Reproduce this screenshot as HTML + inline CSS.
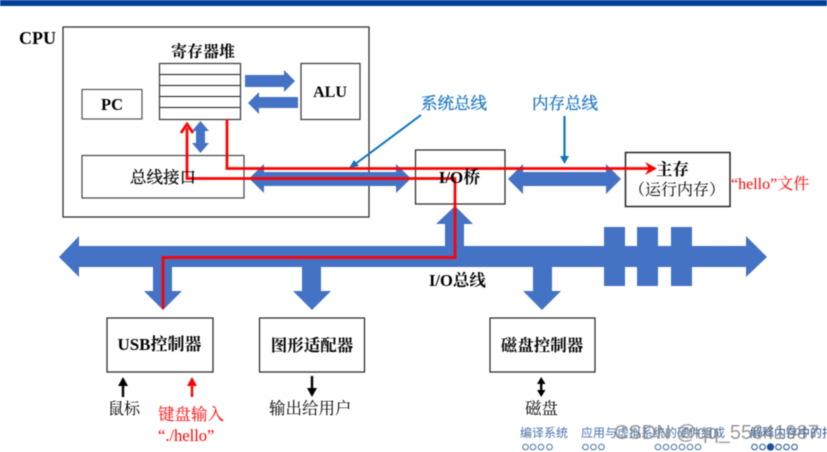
<!DOCTYPE html>
<html><head><meta charset="utf-8">
<style>
html,body{margin:0;padding:0;background:#fff;width:827px;height:452px;overflow:hidden}
svg{display:block;filter:blur(0.45px)}
text{font-family:"Liberation Serif","Noto Serif CJK SC",serif;fill:#000}
.b{font-weight:bold}
.nav{font-family:"Liberation Sans","Noto Sans CJK SC",sans-serif;font-size:12px}
.blue{fill:#1f78c1;stroke:#1f78c1;stroke-width:.35px}
.k{stroke:#000;stroke-width:.25px}
</style></head><body>
<svg width="827" height="452" viewBox="0 0 827 452" xmlns="http://www.w3.org/2000/svg">
<rect x="0" y="0" width="827" height="6" fill="#004098"/>
<g fill="#fff" stroke="#222" stroke-width="1.2">
<rect x="63" y="27" width="306" height="190"/>
<rect x="82" y="89.500" width="60" height="29.500" stroke="#555"/>
<rect x="301" y="63.500" width="59" height="56" stroke="#333"/>
<rect x="82" y="155.500" width="162" height="42.500" stroke="#444"/>
<rect x="159.500" y="63.500" width="81" height="56" stroke="#333"/>
<rect x="415.500" y="150" width="89.500" height="54"/>
<rect x="625.500" y="152.500" width="104.500" height="54" stroke-width="1.500"/>
<rect x="107" y="318" width="106" height="54"/>
<rect x="259.500" y="318" width="105" height="54"/>
<rect x="490" y="318" width="105" height="54"/>
</g>
<g stroke="#111" stroke-width="1">
<line x1="160" x2="240" y1="74.500" y2="74.500"/>
<line x1="160" x2="240" y1="85.500" y2="85.500"/>
<line x1="160" x2="240" y1="96.500" y2="96.500"/>
<line x1="160" x2="240" y1="107.500" y2="107.500"/>
</g>
<g fill="#4472c4">
<polygon points="245,75 284,75 284,70 295,81 284,92 284,87 245,87"/>
<polygon points="298,97 259,97 259,92 248,103 259,114 259,108 298,108"/>
<polygon points="200.500,121 209,131 205,131 205,143 209,143 200.500,153 192,143 196,143 196,131 192,131"/>
<polygon points="249,178.500 264,164 264,172 396,172 396,164 411,178.500 396,193 396,186 264,186 264,193"/>
<polygon points="508,179 523,164 523,172 606,172 606,164 621,179 606,194 606,186 523,186 523,194"/>
<polygon points="455,206 473,224 464,224 464,248 445,248 445,224 436,224"/>
<rect x="604" y="227" width="21" height="59"/>
<rect x="637" y="227" width="21" height="59"/>
<rect x="671" y="227" width="21" height="59"/>
<polygon points="59,257 79,236 79,246 746,246 746,236 767,257 746,277 746,267 79,267 79,277"/>
<polygon points="153,266 172,266 172,291 182,291 163,310 144,291 153,291"/>
<polygon points="302,266 321,266 321,291 331,291 312,310 293,291 302,291"/>
<polygon points="533,266 552,266 552,291 561,291 542,310 523,291 533,291"/>
</g>
<line x1="421" y1="115" x2="354" y2="165" stroke="#0f75bc" stroke-width="2"/>
<polygon points="349,168 354,160 359,166" fill="#0f75bc"/>
<line x1="564.500" y1="116" x2="564.500" y2="158" stroke="#0f75bc" stroke-width="2.200"/>
<polygon points="564.500,164 560,156 569,156" fill="#0f75bc"/>
<g fill="none" stroke="#f00" stroke-width="2.700">
<polyline points="227,119 227,168.500 650,168.500"/>
<polyline points="187,128 187,178.500 455,178.500 455,257.500 163,257.500 163,309"/>
</g>
<polyline points="181,133 187,124 193,133" fill="none" stroke="#f00" stroke-width="2.700"/>
<polygon points="657,168.500 645,162 649,168.500 645,175" fill="#f00"/>
<text x="19" y="44" class="b" font-size="18">CPU</text>
<text x="171" y="57" font-size="16" class="b">寄存器堆</text>
<text x="112" y="110" text-anchor="middle" font-size="16.500" class="b">PC</text>
<text x="330" y="97" text-anchor="middle" font-size="16" class="b">ALU</text>
<text x="130" y="183" font-size="16.500" class="k">总线接口</text>
<text x="459.500" y="183" text-anchor="middle" font-size="17" class="b">I/O桥</text>
<text x="421" y="109" font-size="16.500" class="blue">系统总线</text>
<text x="532" y="109" font-size="16.500" class="blue">内存总线</text>
<text x="656" y="175" font-size="16.500" class="b">主存</text>
<text x="677" y="195" text-anchor="middle" font-size="16">（运行内存）</text>
<text x="731" y="189" font-size="16" style="fill:#f00">“hello”文件</text>
<text x="429" y="286" font-size="16.500" class="b">I/O总线</text>
<text x="159.500" y="350" text-anchor="middle" font-size="17" class="b">USB控制器</text>
<text x="312" y="351" text-anchor="middle" font-size="16.500" class="b">图形适配器</text>
<text x="542" y="351" text-anchor="middle" font-size="16.500" class="b">磁盘控制器</text>
<text x="108" y="414" font-size="16">鼠标</text>
<text x="158" y="420" font-size="16.500" style="fill:#f00">键盘输入</text>
<text x="158" y="441" font-size="16.500" style="fill:#f00">“./hello”</text>
<text x="269" y="414" font-size="16.500">输出给用户</text>
<text x="525" y="414" font-size="16.500">磁盘</text>
<g>
<rect x="121.800" y="384" width="2.400" height="13" fill="#000"/><polygon points="123,377 128,386 118,386" fill="#000"/>
<rect x="190.800" y="384" width="2.400" height="13" fill="#f00"/><polygon points="192,377 197,386 187,386" fill="#f00"/>
<rect x="310.800" y="376" width="2.400" height="14" fill="#000"/><polygon points="312,397 307,388 317,388" fill="#000"/>
<rect x="540" y="381" width="2.400" height="12" fill="#000"/><polygon points="541.200,377 545.500,384 537,384" fill="#000"/><polygon points="541.200,397 545.500,390 537,390" fill="#000"/>
</g>
<text x="520" y="437" class="nav" style="fill:#4a72a8">编译系统</text>
<text x="581" y="437" class="nav" style="fill:#4a72a8">应用与虚拟系统的硬件组成</text>
<text x="750" y="437" class="nav" style="fill:#1f4f96">解释内存中的指</text>
<text x="614" y="439" style="font-family:'Liberation Sans',sans-serif;font-size:20px;fill:#808080;fill-opacity:.8">CSDN @qq_55641987</text>
<g fill="none" stroke="#4a72a8" stroke-width="1">
<circle cx="525.500" cy="447" r="2.800"/><circle cx="533" cy="447" r="2.800"/><circle cx="541" cy="447" r="2.800"/><circle cx="549.500" cy="447" r="2.800"/>
<circle cx="585.500" cy="447" r="2.800"/><circle cx="593.500" cy="447" r="2.800"/><circle cx="601.500" cy="447" r="2.800"/>
<circle cx="658" cy="447" r="2.800"/><circle cx="666" cy="447" r="2.800"/><circle cx="674" cy="447" r="2.800"/><circle cx="682" cy="447" r="2.800"/><circle cx="690" cy="447" r="2.800"/><circle cx="698" cy="447" r="2.800"/>
</g>
<g fill="none" stroke="#1f4f96" stroke-width="1">
<circle cx="754.500" cy="447" r="2.800"/><circle cx="762.500" cy="447" r="2.800"/><circle cx="770.500" cy="447" r="3.200" fill="#1f4f96"/><circle cx="778.500" cy="447" r="2.800"/><circle cx="786.500" cy="447" r="2.800"/><circle cx="794.500" cy="447" r="2.800"/>
</g>
</svg>
</body></html>
